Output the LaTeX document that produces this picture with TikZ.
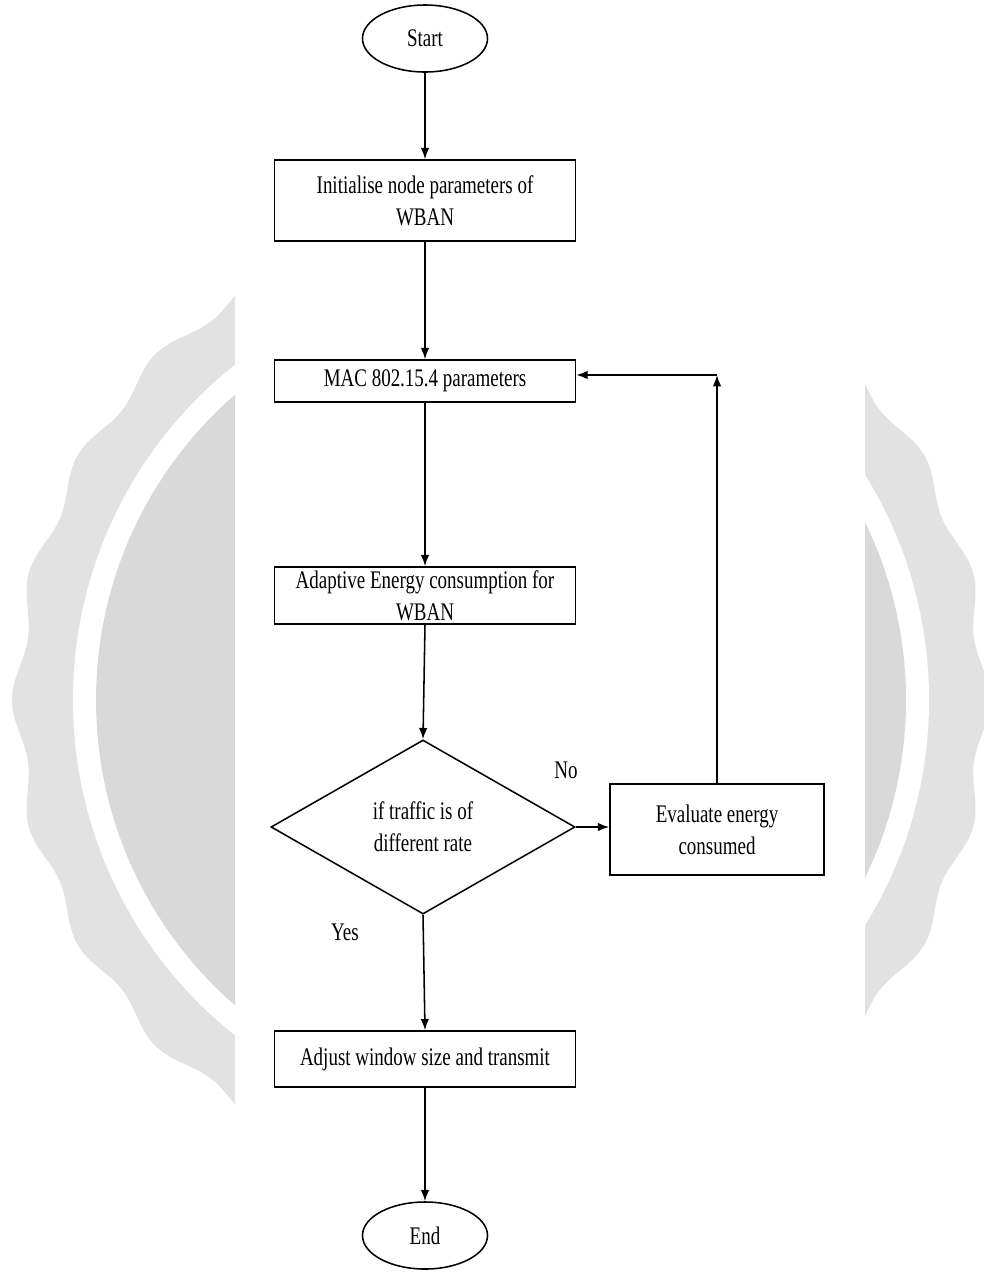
\documentclass[tikz,border=0pt]{standalone}
\usepackage{fontspec}
\setmainfont{Liberation Serif}[FakeStretch=0.75]
\usetikzlibrary{shapes.geometric}
\usetikzlibrary{arrows.meta}
\definecolor{sealOuter}{RGB}{226,226,226}
\definecolor{sealInner}{RGB}{217,217,217}
\tikzset{myboxStep/.style={draw, line width=1.1pt, align=center, inner sep=0pt, minimum width=7.525cm, font=\fontsize{18}{23}\selectfont}}
\tikzset{myboxTerm/.style={draw, ellipse, line width=1.1pt, inner sep=0pt, minimum width=3.125cm, minimum height=1.675cm, font=\fontsize{18}{23}\selectfont}}
\tikzset{myboxCond/.style={draw, diamond, line width=1.1pt, align=center, inner sep=0pt, minimum width=7.6cm, minimum height=4.35cm, font=\fontsize{18}{23}\selectfont}}
\tikzset{myarrow/.style={-{Latex[length=8pt,width=6pt]}, line width=1.1pt}}
\tikzset{mylabel/.style={font=\fontsize{18}{23}\selectfont}}
\begin{document}
\begin{tikzpicture}[x=0.025cm, y=-0.025cm]

\useasboundingbox (0, 0) rectangle (984, 1272);
\clip (0, 0) rectangle (984, 1272);

% watermark seal behind the chart
\fill[sealOuter] plot[domain=0:360, samples=400, smooth] ({501+(483+6*cos(24*\x))*cos(\x)}, {700+(483+6*cos(24*\x))*sin(\x)}) -- cycle;
\fill[white] (501, 700) circle (428);
\fill[sealInner] (501, 700) circle (405);
\fill[white] (235, 0) rectangle (865, 1272);

\node[myboxTerm] (start) at (425, 38.5) {Start};
\node[myboxStep, minimum height=2.025cm] (init) at (425, 200.5) {Initialise node parameters of\\WBAN};
\node[myboxStep, minimum height=1.05cm] (mac) at (425, 381) {MAC 802.15.4 parameters};
\node[myboxStep, minimum height=1.425cm] (adapt) at (425, 595.5) {Adaptive Energy consumption for\\WBAN};
\node[myboxCond] (cond) at (423, 827) {if traffic is of\\different rate};
\node[myboxStep, minimum width=5.35cm, minimum height=2.275cm] (eval) at (717, 829.5) {Evaluate energy\\consumed};
\node[myboxStep, minimum height=1.4cm] (adjust) at (425, 1059) {Adjust window size and transmit};
\node[myboxTerm] (finish) at (425, 1235.5) {End};

\node[mylabel] (no) at (566, 770) {No};
\node[mylabel] (yes) at (345, 932) {Yes};

\coordinate (loop) at (717, 375);

\draw[myarrow] (start.south) to (init.north);
\draw[myarrow] (init.south) to (mac.north);
\draw[myarrow] (mac.south) to (adapt.north);
\draw[myarrow] (adapt.south) to (cond.north);
\draw[myarrow] (cond.east) to (cond.east -| eval.west);
\draw[myarrow] (cond.south) to (adjust.north);
\draw[myarrow] (adjust.south) to (finish.north);
\draw[myarrow] (eval.north) to (loop);
\draw[myarrow] (loop) to (loop -| mac.east);

\end{tikzpicture}
\end{document}
